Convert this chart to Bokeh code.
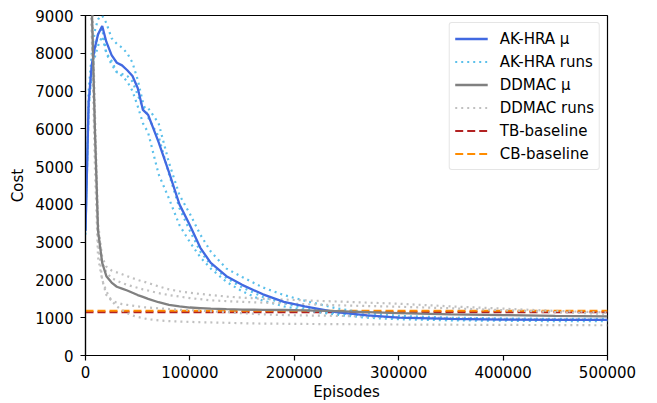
from bokeh.plotting import figure
from bokeh.models import Range1d, FixedTicker, BasicTickFormatter, Legend, LegendItem
from bokeh.embed import file_html
from bokeh.resources import INLINE

episodes = [0, 3000, 6000, 9000, 12000, 16000, 20000, 25000, 30000, 35000, 40000, 45000,
            50000, 55000, 60000, 70000, 80000, 90000, 100000, 110000, 120000, 135000,
            150000, 170000, 190000, 210000, 240000, 270000, 300000, 350000, 400000,
            450000, 500000]

akhra_mean = [3300, 6700, 7700, 8150, 8500, 8720, 8300, 7950, 7750, 7680, 7550, 7400,
              7080, 6500, 6370, 5650, 4850, 4000, 3450, 2850, 2450, 2100,
              1870, 1620, 1420, 1300, 1150, 1060, 1000, 970, 950, 945, 945]

akhra_run1 = [3200, 7000, 8000, 8600, 8900, 9000, 8800, 8400, 8250, 8150, 8000, 7750,
              7300, 6700, 6300, 5800, 4800, 3900, 3300, 2750, 2400, 2050,
              1800, 1550, 1380, 1250, 1120, 1050, 1000, 960, 950, 940, 940]
akhra_run2 = [3400, 6500, 7500, 8100, 8500, 8650, 8000, 7700, 7500, 7450, 7400, 7250,
              6900, 6550, 6550, 6150, 5100, 4250, 3750, 3200, 2750, 2300,
              2080, 1800, 1600, 1450, 1250, 1120, 1050, 1000, 980, 970, 970]
akhra_run3 = [3300, 6600, 7600, 7900, 8200, 8450, 8000, 7800, 7500, 7400, 7250, 7000,
              6600, 6150, 5900, 4800, 4150, 3450, 3000, 2600, 2300, 1950,
              1700, 1450, 1300, 1200, 1080, 1000, 960, 930, 920, 910, 910]

ddmac_mean = [10500, 11000, 9300, 6000, 3300, 2450, 2100, 1930, 1820, 1770, 1720, 1660,
              1600, 1550, 1500, 1410, 1340, 1300, 1270, 1255, 1240, 1225,
              1215, 1210, 1205, 1195, 1175, 1150, 1120, 1090, 1070, 1050, 1035]

ddmac_run1 = [10500, 11500, 9800, 6500, 3500, 2600, 2350, 2250, 2200, 2150, 2100, 2050,
              2000, 1960, 1920, 1830, 1750, 1700, 1660, 1630, 1600, 1560,
              1530, 1500, 1480, 1460, 1430, 1400, 1370, 1300, 1240, 1180, 1140]
ddmac_run2 = [10000, 10800, 9000, 6000, 3400, 2450, 2200, 2050, 1980, 1920, 1870, 1830,
              1790, 1750, 1720, 1650, 1600, 1560, 1520, 1490, 1460, 1440,
              1420, 1400, 1380, 1360, 1330, 1310, 1290, 1250, 1200, 1150, 1100]
ddmac_run3 = [11000, 10500, 8500, 5000, 2600, 2000, 1700, 1450, 1300, 1200, 1120, 1060,
              1020, 990, 960, 930, 910, 900, 890, 880, 875, 865,
              855, 845, 840, 835, 830, 825, 820, 815, 810, 805, 800]
ddmac_run4 = [10800, 11200, 9200, 5800, 3000, 2000, 1600, 1450, 1400, 1360, 1340, 1320,
              1300, 1280, 1270, 1250, 1230, 1210, 1200, 1190, 1170, 1150,
              1120, 1090, 1070, 1060, 1050, 1030, 1010, 990, 970, 960, 950]

tb_baseline = 1150
cb_baseline = 1185

x_ticks = [0, 100000, 200000, 300000, 400000, 500000]
y_ticks = [0, 1000, 2000, 3000, 4000, 5000, 6000, 7000, 8000, 9000]

FONT = "DejaVu Sans"
FS = "15px"

p = figure(width=657, height=403, output_backend="svg", toolbar_location=None,
           x_range=Range1d(0, 500000), y_range=Range1d(0, 9000),
           min_border_left=85, min_border_right=50, min_border_top=15, min_border_bottom=48)
p.xgrid.visible = False
p.ygrid.visible = False
p.outline_line_color = "black"
p.outline_line_width = 1.2
p.background_fill_color = "white"
p.border_fill_color = "white"

for ax in (p.xaxis, p.yaxis):
    ax.axis_line_color = "black"
    ax.axis_line_width = 1.2
    ax.major_tick_line_color = "black"
    ax.major_tick_line_width = 1.2
    ax.major_tick_out = 5
    ax.major_tick_in = 0
    ax.minor_tick_line_color = None
    ax.major_label_text_font = FONT
    ax.major_label_text_font_size = FS
    ax.major_label_text_color = "black"
    ax.axis_label_text_font = FONT
    ax.axis_label_text_font_size = FS
    ax.axis_label_text_color = "black"
    ax.axis_label_text_font_style = "normal"

p.xaxis.ticker = FixedTicker(ticks=x_ticks)
p.yaxis.ticker = FixedTicker(ticks=y_ticks)
p.xaxis.formatter = BasicTickFormatter(use_scientific=False)
p.yaxis.formatter = BasicTickFormatter(use_scientific=False)
p.xaxis.axis_label = "Episodes"
p.yaxis.axis_label = "Cost"
p.yaxis.major_label_standoff = 7
p.yaxis.axis_label_standoff = 5
p.xaxis.major_label_standoff = 5
p.xaxis.axis_label_standoff = 2

DOT = "2 4"
DASH = "8 4"

tb = p.line([0, 500000], [tb_baseline, tb_baseline], line_color="#b22222", line_width=2.2, line_dash=DASH)
cb = p.line([0, 500000], [cb_baseline, cb_baseline], line_color="#ff8c00", line_width=2.2, line_dash=DASH)

ak_runs = []
for r in (akhra_run1, akhra_run2, akhra_run3):
    ak_runs.append(p.line(episodes, r, line_color="#5bc0eb", line_width=2.2, line_dash=DOT))
dd_runs = []
for r in (ddmac_run1, ddmac_run2, ddmac_run3, ddmac_run4):
    dd_runs.append(p.line(episodes, r, line_color="#c0c0c0", line_width=2.2, line_dash=DOT))

ak_mean = p.line(episodes, akhra_mean, line_color="#4169e1", line_width=2.3)
dd_mean = p.line(episodes, ddmac_mean, line_color="#808080", line_width=2.3)

legend = Legend(items=[
    LegendItem(label="AK-HRA μ", renderers=[ak_mean]),
    LegendItem(label="AK-HRA runs", renderers=[ak_runs[0]]),
    LegendItem(label="DDMAC μ", renderers=[dd_mean]),
    LegendItem(label="DDMAC runs", renderers=[dd_runs[0]]),
    LegendItem(label="TB-baseline", renderers=[tb]),
    LegendItem(label="CB-baseline", renderers=[cb]),
], location="top_right")
legend.margin = 7
legend.padding = 5
legend.spacing = 2
legend.glyph_width = 33
legend.glyph_height = 21
legend.label_height = 21
legend.label_standoff = 12
legend.label_text_font = FONT
legend.label_text_font_size = FS
legend.label_text_color = "black"
legend.border_line_color = "#cccccc"
legend.border_line_width = 1
legend.border_radius = 3
legend.background_fill_alpha = 0.8
p.add_layout(legend)

open("out.html", "w").write(file_html(p, INLINE))
